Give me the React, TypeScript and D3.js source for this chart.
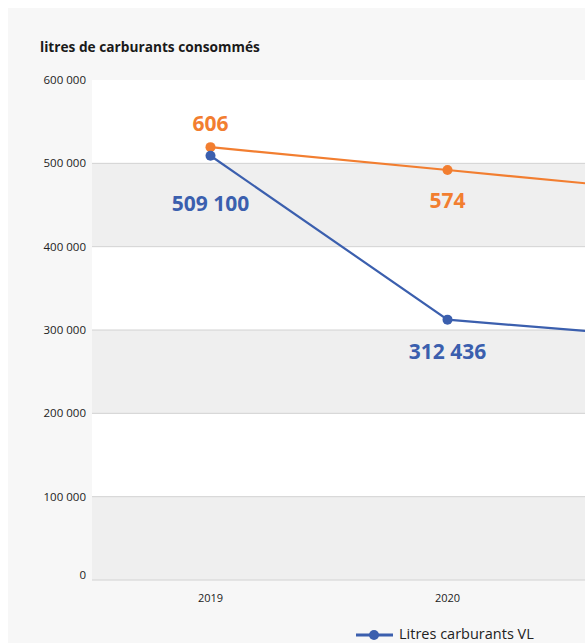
import React from "react";
import * as d3 from "d3";

const years = ["2019", "2020", "2021"];
const litresVL = [509100, 312436, 289000];
const vehicles = [606, 574, 542];
const yTicks = [0, 100000, 200000, 300000, 400000, 500000, 600000];
const title = "litres de carburants consommés";
const legendLabel = "Litres carburants VL";

const BLUE = "#3b5fae";
const ORANGE = "#f27e30";
const FONT = "'Open Sans', sans-serif";

export default function App() {
  const W = 585, H = 643;
  const left = 92, top = 80, bottom = 580;
  const band = 237;
  const x = d3.scaleBand<string>().domain(years).range([left, left + band * years.length]).padding(0);
  const cx = (d: string) => (x(d) as number) + x.bandwidth() / 2;
  const y = d3.scaleLinear().domain([0, 600000]).range([bottom, top]);
  const y2 = d3.scaleLinear().domain([0, 700]).range([bottom, top]);
  const fmt = (v: number) => d3.format(",")(v).replace(/,/g, " ");
  const right = left + band * years.length;
  const visible = (px: number) => px < W - 20;

  const lineBlue = d3.line<number>().x((_, i) => cx(years[i])).y((v) => y(v))(litresVL) || "";
  const lineOrange = d3.line<number>().x((_, i) => cx(years[i])).y((v) => y2(v))(vehicles) || "";

  const blueOffsets = [48, 32, 32];
  const orangeOffsets = [-23, 31, 31];

  return (
    <svg width={W} height={H} style={{ position: "absolute", left: 0, top: 0 }} fontFamily={FONT}>
      <rect x={0} y={0} width={W} height={H} fill="#ffffff" />
      <rect x={8} y={8} width={W} height={H} fill="#f7f7f7" />
      <text x={40} y={52} fontSize={13.7} fontWeight={700} fill="#1a1a1a">{title}</text>
      <rect x={left} y={top} width={right - left} height={bottom - top} fill="#ffffff" />
      {yTicks.slice(0, -1).map((t, i) =>
        i % 2 === 0 ? (
          <rect key={"b" + t} x={left} y={y(t + 100000)} width={right - left} height={y(t) - y(t + 100000)} fill="#efefef" />
        ) : null
      )}
      {yTicks.slice(0, -1).map((t) => (
        <line key={"g" + t} x1={left} x2={right} y1={y(t)} y2={y(t)} stroke="#d2d2d2" strokeWidth={1} />
      ))}
      {yTicks.map((t) => (
        <text key={"t" + t} x={86} y={y(t) + (t === 0 ? -1 : 4)} fontSize={11.5} textAnchor="end" fill="#222">{fmt(t)}</text>
      ))}
      {years.filter((yr) => visible(cx(yr))).map((yr) => (
        <text key={yr} x={cx(yr)} y={602} fontSize={11} textAnchor="middle" fill="#222">{yr}</text>
      ))}
      <path d={lineOrange} fill="none" stroke={ORANGE} strokeWidth={2.2} />
      <path d={lineBlue} fill="none" stroke={BLUE} strokeWidth={2.2} />
      {vehicles.map((v, i) => (
        <g key={"o" + i}>
          <circle cx={cx(years[i])} cy={y2(v)} r={5} fill={ORANGE} />
          {visible(cx(years[i])) && (
            <text x={cx(years[i])} y={y2(v) + orangeOffsets[i] + 7} fontSize={21} fontWeight={700} textAnchor="middle" fill={ORANGE}>{fmt(v)}</text>
          )}
        </g>
      ))}
      {litresVL.map((v, i) => (
        <g key={"l" + i}>
          <circle cx={cx(years[i])} cy={y(v)} r={5} fill={BLUE} />
          {visible(cx(years[i])) && (
            <text x={cx(years[i])} y={y(v) + blueOffsets[i] + 7} fontSize={21} fontWeight={700} textAnchor="middle" fill={BLUE}>{fmt(v)}</text>
          )}
        </g>
      ))}
      <line x1={356} x2={393} y1={635} y2={635} stroke={BLUE} strokeWidth={3} />
      <circle cx={374} cy={635} r={5} fill={BLUE} />
      <text x={399} y={639} fontSize={14.5} fill="#222">{legendLabel}</text>
    </svg>
  );
}
